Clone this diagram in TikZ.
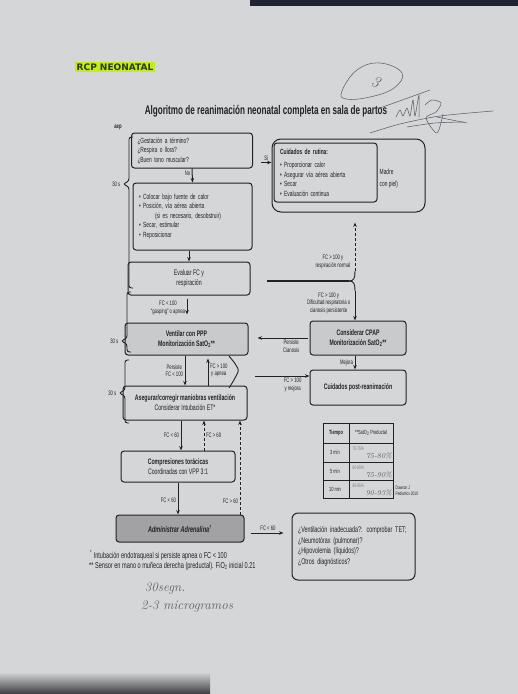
\documentclass[tikz,border=0pt]{standalone}
\usepackage{fontspec}
\newfontfamily\cond{Liberation Sans}[FakeStretch=0.65]
\newfontfamily\hlfont{DejaVu Sans}
\usepackage{tikz}
\usetikzlibrary{positioning, arrows.meta, calc}
\definecolor{paper}{HTML}{D5D6D8}
\definecolor{ink}{HTML}{222222}
\definecolor{boxgray}{HTML}{C9CACC}
\definecolor{adrgray}{HTML}{A2A2A4}
\definecolor{pen}{HTML}{5C6068}
\definecolor{hl}{HTML}{C4EC1C}
\definecolor{hltext}{HTML}{2C3A12}
\definecolor{topedge}{HTML}{1E2433}
\definecolor{shadowc}{HTML}{3C3C40}
\tikzset{
    every node/.style={font=\cond\fontsize{7.5}{9.5}\selectfont, text=ink},
    stepbox/.style={
        rectangle, rounded corners=3pt, draw=ink, line width=1pt,
        fill=paper, align=center, inner sep=2pt,
    },
    askbox/.style={
        stepbox, align=left, inner xsep=6pt, inner ysep=3pt,
    },
    lbl/.style={font=\cond\fontsize{6.5}{7.5}\selectfont, align=center, inner sep=1.5pt},
    arr/.style={-{Stealth[length=4.5pt, width=3.5pt]}, draw=ink, line width=1pt},
    darr/.style={arr, dashed, dash pattern=on 3pt off 2pt},
    bracepath/.style={draw=ink, line width=0.9pt, rounded corners=2.5pt},
    penline/.style={draw=pen, line width=0.55pt, line cap=round, line join=round},
    hand/.style={font=\rmfamily\itshape\fontsize{13}{14}\selectfont, text=pen, inner sep=0pt},
}
% left brace: x right, x tip, y top, y tip, y bottom
\newcommand{\sidebrace}[5]{%
    \draw[bracepath] (#1+4,#3) -- (#1,#3) -- (#1,#4-3) -- (#2,#4)
        -- (#1,#4+3) -- (#1,#5) -- (#1+4,#5);}

\begin{document}
\begin{tikzpicture}[x=1pt, y=-1pt]

% ── Page ───────────────────────────────────────────────────────────
\useasboundingbox (0,0) rectangle (518,694);
\fill[paper] (0,0) rectangle (518,694);
\fill[topedge] (250,0) rectangle (518,6);
\shade[top color=paper, bottom color=shadowc] (0,672) rectangle (210,694);

% ── Heading ────────────────────────────────────────────────────────
\node[fill=hl, inner sep=1.5pt, text=hltext,
      font=\hlfont\bfseries\fontsize{9}{10}\selectfont] (head) at (115,67) {RCP NEONATAL};
\node[font=\cond\bfseries\fontsize{12.5}{13}\selectfont] (title) at (266,111)
    {Algoritmo de reanimación neonatal completa en sala de partos};
\node[font=\cond\bfseries\fontsize{6.5}{7}\selectfont] (aep) at (118,127) {aep};

% ── Nodes ──────────────────────────────────────────────────────────
\node[askbox, text width=109pt, minimum height=35pt] (gest) at (192,150.5)
    {¿Gestación a término?\\¿Respira o llora?\\¿Buen tono muscular?};

\node[stepbox, minimum width=153pt, minimum height=73pt, rounded corners=9pt]
    (rutinaout) at (348.5,175.5) {};
\node[askbox, text width=91pt, minimum height=59pt] (rutina) at (325.5,172.5)
    {\textbf{Cuidados de rutina:}\\[4pt]• Proporcionar calor\\• Asegurar vía aérea abierta\\• Secar\\• Evaluación continua};
\node[right=2pt of rutina, yshift=-6pt, align=left, inner sep=0pt] (madre)
    {Madre\\[3pt]con piel)};

\node[askbox, text width=107pt, minimum height=67pt] (colocar) at (192.5,216.5)
    {• Colocar bajo fuente de calor\\• Posición, vía aérea abierta\\\hspace*{16pt}(si es necesario, desobstruir)\\• Secar, estimular\\• Reposicionar};

\node[stepbox, minimum width=122pt, minimum height=33pt,
      font=\cond\fontsize{8}{10}\selectfont] (evaluar) at (189,278.5)
    {Evaluar FC y\\respiración};

\node[stepbox, fill=boxgray, minimum width=123pt, minimum height=32pt,
      font=\cond\bfseries\fontsize{8}{10}\selectfont] (ventilar) at (186.5,339)
    {Ventilar con PPP\\Monitorización SatO\textsubscript{2}**};

\node[stepbox, fill=boxgray, minimum width=96pt, minimum height=34pt,
      font=\cond\bfseries\fontsize{8}{10}\selectfont] (cpap) at (358,338)
    {Considerar CPAP\\Monitorización SatO\textsubscript{2}**};

\node[stepbox, minimum width=96pt, minimum height=35pt,
      font=\cond\bfseries\fontsize{8}{10}\selectfont] (post) at (358,387.5)
    {Cuidados post-reanimación};

\node[stepbox, minimum width=124pt, minimum height=34pt,
      font=\cond\fontsize{8}{10}\selectfont] (asegurar) at (185,403)
    {\textbf{Asegurar/corregir maniobras ventilación}\\Considerar Intubación ET*};

\node[stepbox, minimum width=114pt, minimum height=31pt,
      font=\cond\fontsize{8}{10}\selectfont] (compres) at (178,466.5)
    {\textbf{Compresiones torácicas}\\Coordinadas con VPP 3:1};

\node[stepbox, fill=adrgray, minimum width=128pt, minimum height=27pt,
      font=\cond\bfseries\itshape\fontsize{8.5}{10}\selectfont] (adren) at (180,528.5)
    {Administrar Adrenalina\textsuperscript{†}};

\node[askbox, text width=111pt, minimum height=67pt, rounded corners=6pt,
      font=\cond\fontsize{8.3}{10.5}\selectfont] (causas) at (353.5,546.5)
    {¿Ventilación inadecuada?: comprobar TET;\\¿Neumotórax (pulmonar)?\\¿Hipovolemia (líquidos)?\\¿Otros diagnósticos?};

% ── Braces (30 s) ─────────────────────────────────────────────────
\sidebrace{129}{123}{137}{184}{288}
\node[lbl, anchor=east] (t1) at (122,184) {30 s};
\sidebrace{127}{121}{292}{341}{352}
\node[lbl, anchor=east] (t2) at (120,341) {30 s};
\sidebrace{125}{119}{360}{393}{423}
\node[lbl, anchor=east] (t3) at (118,393) {30 s};

% ── Straight edges ─────────────────────────────────────────────────
\draw[arr] (gest.south) -- (colocar.north) node[lbl, left, pos=0.35] {No};
\draw[arr] ([xshift=8pt, yshift=-12pt]gest.east) coordinate (siA)
    -- (siA -| rutinaout.west) node[lbl, above, midway] {Sí};
\draw[arr] (colocar.south -| evaluar.north) -- (evaluar.north);
\draw[arr, shorten <=3pt, shorten >=8pt] ([xshift=-2pt]evaluar.south) coordinate (e1)
    -- (e1 |- ventilar.north)
    node[lbl, left, pos=0.45] {FC < 100\\“gasping” o apnea};

% ── Evaluar → brace → rutina / CPAP ───────────────────────────────
\coordinate (brstart) at (267,281);
\coordinate (brtip) at (349,281);
\coordinate (brup) at (355,271);
\coordinate (brdn) at (355,291);
\draw[ink, line width=1.4pt] (brstart) -- (brtip);
\draw[bracepath] (brtip) .. controls (354,281) and (355,278) .. (brup);
\draw[bracepath] (brtip) .. controls (354,281) and (355,284) .. (brdn);
\draw[darr, shorten >=10pt] (brup) -- (brup |- rutinaout.south);
\node[lbl, anchor=east] (normal) at (352,262) {FC > 100 y\\respiración normal};
\draw[arr] (brdn) -- (brdn |- cpap.north);
\node[lbl, anchor=east] (dificultad) at (352,303)
    {FC > 100 y\\Dificultad respiratoria o\\cianosis persistente};

% ── CPAP edges ─────────────────────────────────────────────────────
\draw[arr, shorten <=2pt, shorten >=9pt] (cpap.west) -- (cpap.west -| ventilar.east)
    node[lbl, below, pos=0.3] {Persiste\\Cianosis};
\draw[arr] (cpap.south -| brdn) -- (post.north -| brdn)
    node[lbl, left, midway] {Mejora};

% ── Ventilar ↔ Asegurar ────────────────────────────────────────────
\draw[arr] (ventilar.south -| asegurar.north) -- (asegurar.north)
    node[lbl, left, midway] {Persiste\\FC < 100};
\draw[arr, shorten >=3pt] ([xshift=23pt]asegurar.north) coordinate (up1)
    -- (up1 |- ventilar.south) node[lbl, right, midway] {FC > 100\\y apnea};
\draw[bracepath] (229,356) -- (234,362) -- (239,370) -- (234,380) -- (229,388);
\coordinate (mjstart) at (255,376);
\draw[arr] (mjstart) -- (mjstart -| post.west)
    node[lbl, below, pos=0.69] {FC > 100\\y mejora};

% ── Asegurar ↔ Compresiones ↔ Adrenalina ───────────────────────────
\draw[arr] ([xshift=-4pt]asegurar.south) coordinate (a1) -- (a1 |- compres.north)
    node[lbl, left, midway] {FC < 60};
\draw[darr] ([xshift=26pt]compres.north) coordinate (a2) -- (a2 |- asegurar.south)
    node[lbl, right, midway] {FC > 60};
\draw[arr] (compres.south) -- (compres.south |- adren.north)
    node[lbl, left, pos=0.55] {FC < 60};
\draw[darr] ([xshift=60pt]adren.north) coordinate (d1) -- (d1 |- asegurar.south)
    node[lbl, left, pos=0.14] {FC > 60};
\draw[arr, shorten <=6pt, shorten >=8pt] ([yshift=-4.5pt]adren.east) coordinate (c1)
    -- (c1 -| causas.west) node[lbl, above, midway] {FC < 60};

% ── SatO2 table ────────────────────────────────────────────────────
\draw[ink, line width=1pt] (323,423) rectangle (393,498);
\foreach \yy in {443,462,480} \draw[ink, line width=0.8pt] (323,\yy) -- (393,\yy);
\draw[ink, line width=0.8pt] (349,423) -- (349,498);
\node[lbl, font=\cond\bfseries\fontsize{6}{7}\selectfont] (thead1) at (336,433) {Tiempo};
\node[lbl, font=\cond\fontsize{6}{7}\selectfont] (thead2) at (371,433) {**SatO\textsubscript{2} Preductal};
\foreach \t/\yy/\pv/\hw in {3 min/452/70-75\%/75-80\%, 5 min/471/80-85\%/75-90\%, 10 min/489/85-95\%/90-93\%}{
    \node[lbl, font=\cond\fontsize{6}{7}\selectfont] at (335,\yy) {\t};
    \node[lbl, font=\cond\fontsize{5}{6}\selectfont, text=ink!60, anchor=west] at (351,\yy-3) {\pv};
    \node[hand, font=\rmfamily\itshape\fontsize{7.5}{8}\selectfont, anchor=east] at (392,\yy+4) {\hw};
}
\node[lbl, font=\cond\fontsize{5}{6}\selectfont, align=left, anchor=west] (dawson) at (394,491)
    {Dawson J\\Pediatrics 2010};

% ── Footnotes ──────────────────────────────────────────────────────
\node[anchor=west, inner sep=0pt, font=\cond\fontsize{8.6}{9}\selectfont] (nota1) at (90,555)
    {\textsuperscript{*} Intubación endotraqueal si persiste apnea o FC < 100};
\node[anchor=west, inner sep=0pt, font=\cond\fontsize{8.6}{9}\selectfont] (nota2) at (89,566)
    {** Sensor en mano o muñeca derecha (preductal). FiO\textsubscript{2} inicial 0.21};

% ── Handwriting ────────────────────────────────────────────────────
\node[hand] (hw1) at (165,588) {30segn.};
\node[hand] (hw2) at (187,606) {2-3 microgramos};
\draw[penline] plot[smooth cycle, tension=0.7] coordinates
    {(342,91) (357,70) (380,63) (402,73) (394,88) (370,97) (346,99)};
\node[hand, font=\rmfamily\itshape\fontsize{16}{16}\selectfont, rotate=-20] (tres) at (376,82) {3};
\draw[penline] plot[smooth] coordinates {(370,133) (400,124) (440,116) (493,111)};
\draw[penline] plot[smooth] coordinates {(380,108) (405,99) (430,90)};
\draw[penline] plot[smooth, tension=0.4] coordinates
    {(396,117) (400,110) (403,116) (407,108) (410,116) (413,100) (415,116) (419,95) (419,117)};
\draw[penline] plot[smooth, tension=0.5] coordinates
    {(425,105) (432,100) (441,103) (436,112) (426,118) (437,133) (443,114)};
\draw[penline] plot[smooth] coordinates {(407,127) (435,123) (463,122)};
\draw[penline] (437,117) -- (467,123);

\end{tikzpicture}
\end{document}
